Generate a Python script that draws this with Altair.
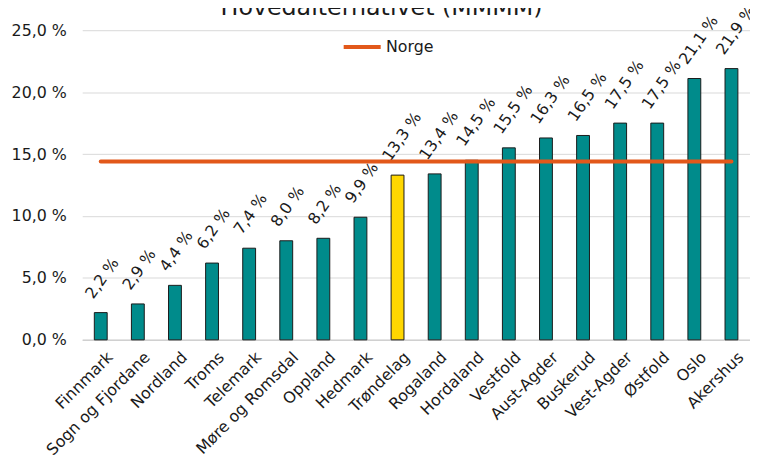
import altair as alt
import pandas as pd

# ---- data ----
regions = ["Finnmark", "Sogn og Fjordane", "Nordland", "Troms", "Telemark",
           "Møre og Romsdal", "Oppland", "Hedmark", "Trøndelag", "Rogaland",
           "Hordaland", "Vestfold", "Aust-Agder", "Buskerud", "Vest-Agder",
           "Østfold", "Oslo", "Akershus"]
values = [2.2, 2.9, 4.4, 6.2, 7.4, 8.0, 8.2, 9.9, 13.3, 13.4,
          14.5, 15.5, 16.3, 16.5, 17.5, 17.5, 21.1, 21.9]
norge_label = "Norge"
norge_value = 14.4
highlight = "Trøndelag"
y_ticks = [0, 5, 10, 15, 20, 25]
title_text = "Hovedalternativet (MMMM)"

df = pd.DataFrame({"region": regions, "value": values})
df_line = pd.DataFrame({"region": regions,
                        "value": [norge_value] * len(regions),
                        "serie": [norge_label] * len(regions)})
df_title = pd.DataFrame({"t": [title_text]})

FONT = "DejaVu Sans"
TXT = "#1a1a1a"
TEAL = "#008B8B"
YELLOW = "#FFD700"
ORANGE = "#E2581A"
W, H = 675, 313

x = alt.X("region:N", sort=regions,
          scale=alt.Scale(paddingInner=0, paddingOuter=0),
          axis=alt.Axis(title=None, labelAngle=-45, labelAlign="right",
                        labelBaseline="top", labelFont=FONT, labelFontSize=16,
                        labelColor=TXT, ticks=False, domainColor="#d0d0d0",
                        domainWidth=1.5, labelPadding=9, labelOffset=4))
y = alt.Y("value:Q", scale=alt.Scale(domain=[0, 25], nice=False),
          axis=alt.Axis(title=None, values=y_ticks,
                        labelExpr="replace(format(datum.value, '.1f'), '.', ',') + ' %'",
                        labelFont=FONT, labelFontSize=16, labelColor=TXT,
                        labelPadding=16, ticks=False, domain=False,
                        grid=True, gridColor="#d9d9d9", gridWidth=1))

bars = alt.Chart(df).mark_bar(size=13, stroke="#1a1a1a", strokeWidth=1).encode(
    x=x, y=y,
    color=alt.condition(alt.datum.region == highlight,
                        alt.value(YELLOW), alt.value(TEAL)))

labels = alt.Chart(df).transform_calculate(
    label="replace(format(datum.value, '.1f'), '.', ',') + ' %'"
).mark_text(angle=305, align="left", baseline="alphabetic", dx=6.4, dy=-13.6,
            font=FONT, fontSize=16, color=TXT).encode(
    x=x, y=y, text="label:N")

line = alt.Chart(df_line).mark_line(strokeWidth=4, strokeCap="round").encode(
    x=x, y=y,
    color=alt.Color("serie:N",
                    scale=alt.Scale(domain=[norge_label], range=[ORANGE]),
                    legend=alt.Legend(title=None, orient="none", legendX=262,
                                      legendY=-4, symbolType="stroke",
                                      symbolSize=1400, symbolStrokeWidth=4,
                                      labelFont=FONT, labelFontSize=16,
                                      labelColor=TXT, labelOffset=3,
                                      padding=0)))

# chart title (sits above the plot, partly outside the page as in the reference)
title = alt.Chart(df_title).mark_text(
    font=FONT, fontSize=24, color=TXT, align="center", baseline="alphabetic"
).encode(text="t:N", x=alt.value(302.5), y=alt.value(-15))

chart = alt.layer(bars, labels, line, title).properties(
    width=W, height=H,
    padding={"left": 75, "top": 20, "right": 0, "bottom": 119},
    autosize=alt.AutoSizeParams(type="none"),
).configure_view(stroke=None)

chart.save("out.html", embed_options={"renderer": "svg", "actions": False})
